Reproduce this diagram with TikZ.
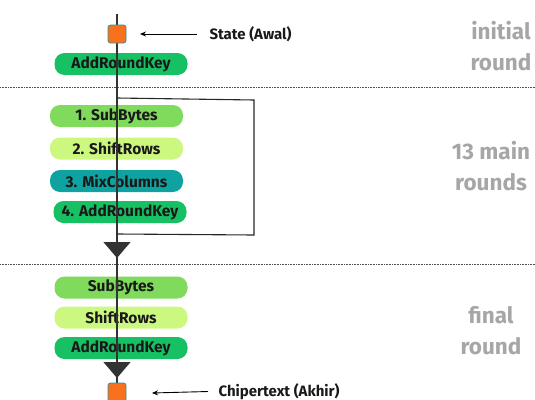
\documentclass[tikz,border=0pt]{standalone}
\usepackage{fontspec}
\setmainfont{Fira Sans}
\usetikzlibrary{arrows.meta}
\definecolor{sqorange}{RGB}{249,112,30}
\definecolor{sqborder}{RGB}{40,150,150}
\definecolor{arkgreen}{RGB}{24,192,100}
\definecolor{sbgreen}{RGB}{128,218,92}
\definecolor{srlime}{RGB}{204,248,128}
\definecolor{mcteal}{RGB}{14,163,160}
\definecolor{lblgray}{RGB}{166,166,166}
\definecolor{txtdark}{RGB}{25,25,25}
\tikzset{
  pill/.style={rounded corners=10pt, minimum height=22pt, minimum width=133pt, inner sep=0pt,
    font=\fontsize{15.5}{17}\selectfont\bfseries, text=txtdark},
  statesq/.style={fill=sqorange, draw=sqborder, line width=0.8pt, rounded corners=2.5pt,
    minimum size=18pt, inner sep=0pt},
  sidelabel/.style={font=\fontsize{15}{17}\selectfont\bfseries, text=txtdark, anchor=west},
  roundlabel/.style={font=\fontsize{22.5}{31}\selectfont\bfseries, text=lblgray, align=center},
  flow/.style={draw=black!80, line width=1.3pt},
  sep/.style={draw=black!70, line width=0.8pt, dash pattern=on 0.8pt off 0.8pt},
  pointer/.style={draw=black, line width=0.9pt, -{Stealth[length=6pt,width=5pt]}},
  bigtip/.style={draw=black!80, line width=1.3pt, -{Triangle[length=16pt,width=27pt]}},
}
\begin{document}
\begin{tikzpicture}[x=1pt,y=-1pt]
\useasboundingbox (0,0) rectangle (535,399);
% separators
\coordinate (s1l) at (0,87); \coordinate (s1r) at (535,87);
\coordinate (s2l) at (0,264); \coordinate (s2r) at (535,264);
\draw[sep] (s1l) -- (s1r);
\draw[sep] (s2l) -- (s2r);
% pills
\node[pill, fill=arkgreen] (ark0) at (121,64) {AddRoundKey};
\node[pill, fill=sbgreen] (sb1) at (116.5,116) {1. SubBytes};
\node[pill, fill=srlime] (sr1) at (116.5,148.5) {2. ShiftRows};
\node[pill, fill=mcteal] (mc1) at (116.5,181) {3. MixColumns};
\node[pill, fill=arkgreen] (ark1) at (120,212) {4. AddRoundKey};
\node[pill, fill=sbgreen] (sb2) at (121,287.5) {SubBytes};
\node[pill, fill=srlime] (sr2) at (121,317.5) {ShiftRows};
\node[pill, fill=arkgreen] (ark2) at (121,348) {AddRoundKey};
% main flow line
\coordinate (top) at (117,14);
\coordinate (bot) at (117,399);
\draw[flow] (top) -- (bot);
% loop
\coordinate (lp1) at (117,98);
\coordinate (lp2) at (254,100);
\coordinate (lp3) at (254,235);
\coordinate (lp4) at (117,234);
\draw[draw=black!85, line width=1.1pt] (lp1) -- (lp2) -- (lp3) -- (lp4);
% big arrow heads
\coordinate (t1a) at (117,236); \coordinate (t1b) at (117,258);
\coordinate (t2a) at (117,360); \coordinate (t2b) at (117,378);
\draw[bigtip] (t1a) -- (t1b);
\draw[bigtip] (t2a) -- (t2b);
% state squares
\node[statesq] (st0) at (117,34) {};
\node[statesq, minimum height=20pt] (st1) at (117,393) {};
% pointers and labels
\node[sidelabel] (lbl0) at (206,34) {State (Awal)};
\node[sidelabel] (lbl1) at (215,391.5) {Chipertext (Akhir)};
\coordinate (p0) at (140,34);
\coordinate (p1) at (152,393);
\draw[pointer] ([xshift=-9pt]lbl0.west) -- (p0);
\draw[pointer] ([xshift=-7pt]lbl1.west) -- (p1);
% round labels
\node[roundlabel] (r0) at (501,46) {initial\\round};
\node[roundlabel] (r1) at (491,166) {13 main\\rounds};
\node[roundlabel] (r2) at (491,331) {final\\round};
\end{tikzpicture}
\end{document}
